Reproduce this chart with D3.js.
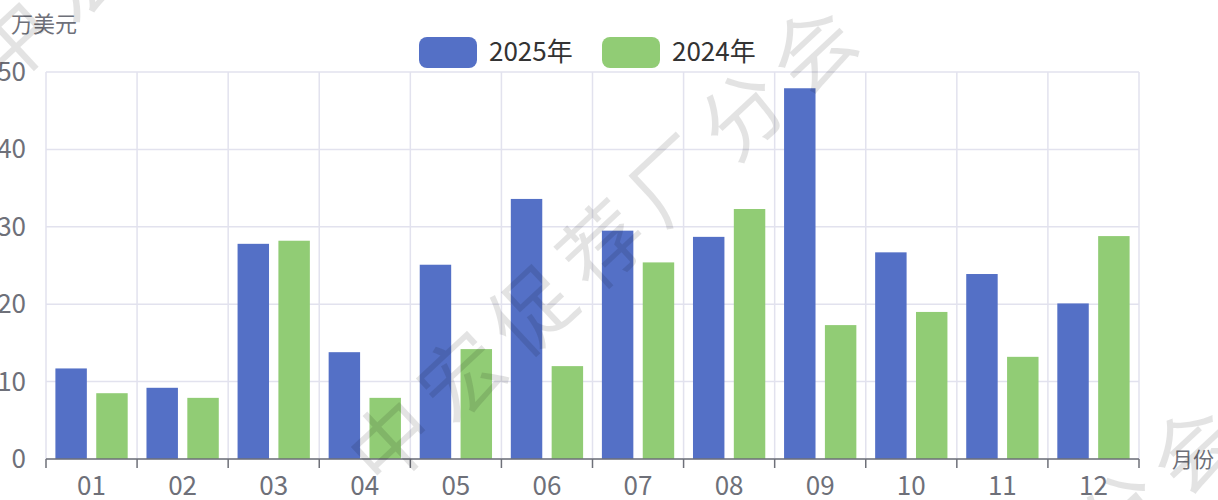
<!DOCTYPE html>
<html>
<head>
<meta charset="utf-8">
<script src="https://cdn.jsdelivr.net/npm/d3@7/dist/d3.min.js"></script>
<style>
  html, body { margin: 0; padding: 0; background: #fff; }
  svg { display: block; font-family: "Noto Sans CJK SC", "Noto Sans", sans-serif; }
</style>
</head>
<body>
<svg id="chart" width="1218" height="500"></svg>
<script>
const months = ["01","02","03","04","05","06","07","08","09","10","11","12"];
const seriesNames = ["2025年", "2024年"];
const values2025 = [11.7, 9.2, 27.8, 13.8, 25.1, 33.6, 29.5, 28.7, 47.9, 26.7, 23.9, 20.1];
const values2024 = [8.5, 7.9, 28.2, 7.9, 14.2, 12.0, 25.4, 32.3, 17.3, 19.0, 13.2, 28.8];
const yTicks = [0, 10, 20, 30, 40, 50];
const yUnit = "万美元";
const xUnit = "月份";
const watermark = "中宏促荐厂分会";

(function () {
const colors = ["#5470c6", "#91cc75"];
const seriesValues = [values2025, values2024];

const svg = d3.select("#chart");
const pL = 46, pR = 1139, pT = 72, pB = 459;

const x = d3.scaleBand().domain(months).range([pL, pR]).paddingInner(0).paddingOuter(0);
const x1 = d3.scaleBand().domain(seriesNames).range([0, x.bandwidth()]).paddingInner(0.23).paddingOuter(0.23);
const y = d3.scaleLinear().domain([0, 50]).range([pB, pT]);

// horizontal grid
svg.append("g").selectAll("line").data(yTicks).join("line")
  .attr("x1", pL).attr("x2", pR)
  .attr("y1", d => y(d)).attr("y2", d => y(d))
  .attr("stroke", "#e2e2ee").attr("stroke-width", 1.5);

// vertical grid at band boundaries
const bounds = months.map(m => x(m)).concat([pR]);
svg.append("g").selectAll("line").data(bounds).join("line")
  .attr("x1", d => d).attr("x2", d => d)
  .attr("y1", pT).attr("y2", pB)
  .attr("stroke", "#e2e2ee").attr("stroke-width", 1.5);

// bars
const gBars = svg.append("g");
seriesNames.forEach((s, si) => {
  gBars.append("g").selectAll("rect").data(months).join("rect")
    .attr("x", (m) => x(m) + x1(s))
    .attr("width", x1.bandwidth())
    .attr("y", (m, i) => y(seriesValues[si][i]))
    .attr("height", (m, i) => y(0) - y(seriesValues[si][i]))
    .attr("fill", colors[si]);
});

// x axis
const xAxis = svg.append("g");
xAxis.append("line").attr("x1", pL).attr("x2", pR).attr("y1", pB).attr("y2", pB)
  .attr("stroke", "#6e7079").attr("stroke-width", 1.5);
xAxis.selectAll("line.tick").data(bounds).join("line").attr("class", "tick")
  .attr("x1", d => d).attr("x2", d => d).attr("y1", pB).attr("y2", pB + 9)
  .attr("stroke", "#6e7079").attr("stroke-width", 1.5);
xAxis.selectAll("text").data(months).join("text")
  .attr("x", d => x(d) + x.bandwidth() / 2).attr("y", 495)
  .attr("text-anchor", "middle").attr("fill", "#6e7079")
  .attr("font-size", 26).text(d => d);

// y labels
svg.append("g").selectAll("text").data(yTicks).join("text")
  .attr("x", 26).attr("y", d => y(d) + 9)
  .attr("text-anchor", "end").attr("fill", "#6e7079")
  .attr("font-size", 26).text(d => d);

// unit labels
svg.append("text").attr("x", 11).attr("y", 32).attr("fill", "#6e7079").attr("font-size", 22).text(yUnit);
svg.append("text").attr("x", 1172).attr("y", 467).attr("fill", "#6e7079").attr("font-size", 21).text(xUnit);

// legend
const legend = svg.append("g");
const legendItems = [{x: 419, name: seriesNames[0], c: colors[0]}, {x: 602, name: seriesNames[1], c: colors[1]}];
legendItems.forEach(it => {
  legend.append("rect").attr("x", it.x).attr("y", 37).attr("width", 58).attr("height", 31)
    .attr("rx", 8).attr("fill", it.c);
  legend.append("text").attr("x", it.x + 70).attr("y", 61).attr("fill", "#333")
    .attr("font-size", 26).text(it.name);
});

// watermark
const wm = svg.append("g").attr("pointer-events", "none");
[[-380, -400], [0, 0], [380, 400]].forEach(([dx, dy]) => {
  wm.append("text")
    .attr("transform", `translate(${382 + dx},${492 + dy}) rotate(-43)`)
    .attr("font-size", 82).attr("fill", "rgba(0,0,0,0.11)")
    .attr("letter-spacing", 14)
    .text(watermark);
});
})();
</script>
</body>
</html>
